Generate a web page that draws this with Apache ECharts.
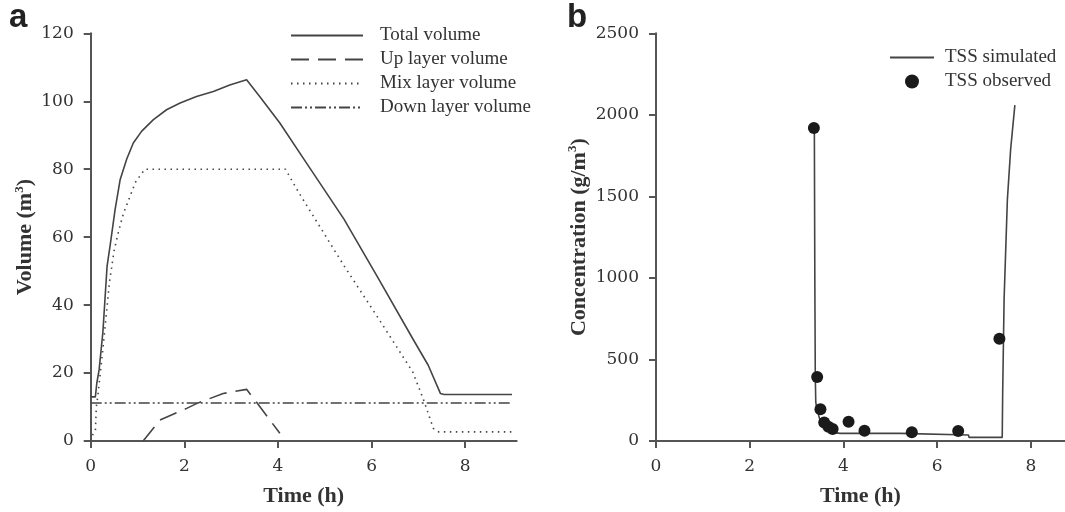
<!DOCTYPE html>
<html>
<head>
<meta charset="utf-8">
<script src="https://cdn.jsdelivr.net/npm/echarts@6/dist/echarts.min.js"></script>
<style>
html,body{margin:0;padding:0;background:#fff;}
#c{width:1065px;height:512px;}
</style>
</head>
<body>
<div id="c"></div>
<script>
// ---- Panel a: volumes (m3) vs time (h) ----
const totalVolume = [[0,13],[0.1,13],[0.13,17],[0.18,21],[0.26,32],[0.35,51.5],[0.42,58],[0.52,68],[0.63,77],[0.77,83],[0.91,87.7],[1.09,91.2],[1.34,94.6],[1.62,97.5],[1.91,99.5],[2.26,101.4],[2.62,102.9],[2.97,104.8],[3.33,106.3],[3.61,101.4],[4.04,93.6],[4.6,82],[5.41,65.3],[6.15,47.7],[6.88,30.1],[7.21,22.3],[7.47,14],[7.55,13.7],[9,13.7]];
const upVolume = [[1.12,0],[1.48,6.2],[2.05,9.6],[2.26,11],[2.83,14],[3.33,15.2],[3.51,12],[4.04,2.3]];
const mixVolume = [[0,0],[0.05,2],[0.1,3],[0.12,10],[0.15,13],[0.26,27],[0.40,46.7],[0.50,56],[0.59,61.4],[0.70,67],[0.84,72],[0.95,76],[1.05,78],[1.16,80],[4.16,80],[4.45,73],[5.41,51.6],[6.15,36],[6.88,20.3],[7.10,12.5],[7.32,3.7],[7.43,2.7],[9,2.7]];
const downVolume = [[0,11.2],[9,11.2]];
// ---- Panel b: TSS concentration (g/m3) vs time (h) ----
const tssSimulated = [[3.38,1920],[3.39,1000],[3.40,400],[3.41,240],[3.43,200],[3.50,128],[3.62,78],[3.79,53],[3.93,47],[5.21,47],[5.22,37],[6.67,37],[6.68,22],[7.39,22],[7.40,300],[7.43,870],[7.50,1480],[7.57,1790],[7.66,2060]];
const tssObserved = [[3.37,1920],[3.44,393],[3.51,194],[3.59,114],[3.68,88],[3.77,73],[4.11,118],[4.45,63],[5.46,53],[6.45,61],[7.33,627]];
// ---- Tick values ----
const xTicks = [0,2,4,6,8];

const serif = '"Liberation Serif", "Times New Roman", serif';
const tickFont = '"DejaVu Serif", serif';
const axisColor = '#555';
const lineColor = '#444';

function xAxisCfg(gridIndex, max){
  return {
    type:'value', gridIndex, min:0, max,
    name:'Time (h)', nameLocation:'middle', nameGap:44, nameMoveOverlap:false,
    nameTextStyle:{fontFamily:serif, fontSize:22, fontWeight:'bold', color:'#333'},
    axisLine:{show:true, onZero:false, lineStyle:{color:axisColor, width:2}},
    axisTick:{show:true, inside:false, length:7, customValues:xTicks, lineStyle:{color:axisColor, width:2}},
    axisLabel:{customValues:xTicks, margin:17, fontFamily:tickFont, fontSize:17, color:'#333', formatter:v=>String(v)},
    splitLine:{show:false}
  };
}
function yAxisCfg(gridIndex, max, interval, name, gap){
  return {
    type:'value', gridIndex, min:0, max, interval,
    name, nameLocation:'middle', nameGap:gap, nameMoveOverlap:false,
    nameTextStyle:{fontFamily:serif, fontSize:22, fontWeight:'bold', color:'#333', lineHeight:26,
      rich:{sup:{fontFamily:serif, fontSize:13, fontWeight:'bold', color:'#333', lineHeight:12, verticalAlign:'top'}}},
    axisLine:{show:true, onZero:false, lineStyle:{color:axisColor, width:2}},
    axisTick:{show:true, inside:false, length:7, lineStyle:{color:axisColor, width:2}},
    axisLabel:{margin:17, fontFamily:tickFont, fontSize:17, color:'#333', formatter:v=>String(v)},
    splitLine:{show:false}
  };
}
const noSymbol = {color:'rgba(0,0,0,0)', borderWidth:0, opacity:0};

const chart = echarts.init(document.getElementById('c'), null, {renderer:'canvas'});
chart.setOption({
  animation:false,
  backgroundColor:'#fff',
  grid:[
    {left:90.7, top:33.3, width:426, height:409.4},
    {left:656, top:33.3, width:409, height:409.4}
  ],
  xAxis:[xAxisCfg(0, 9.1), xAxisCfg(1, 8.73)],
  yAxis:[
    yAxisCfg(0, 120, 20, 'Volume (m{sup|3})', 52),
    yAxisCfg(1, 2500, 500, 'Concentration (g/m{sup|3})', 64)
  ],
  legend:[
    {
      left:285, top:21, orient:'vertical', itemWidth:72, itemHeight:14, itemGap:5,
      data:['Total volume','Up layer volume','Mix layer volume','Down layer volume'],
      itemStyle:noSymbol,
      textStyle:{fontFamily:serif, fontSize:19, color:'#333', padding:[0,0,0,12]},
      selectedMode:false
    },
    {
      left:884, top:43, orient:'vertical', itemWidth:44, itemHeight:14, itemGap:5,
      data:[{name:'TSS simulated', itemStyle:noSymbol},'TSS observed'],
      textStyle:{fontFamily:serif, fontSize:19, color:'#333', padding:[0,0,0,6]},
      selectedMode:false
    }
  ],
  graphic:[
    {type:'text', left:9, top:1, style:{text:'a', font:'bold 33px "Liberation Sans", Arial, sans-serif', fill:'#222'}},
    {type:'text', left:567, top:1, style:{text:'b', font:'bold 33px "Liberation Sans", Arial, sans-serif', fill:'#222'}}
  ],
  series:[
    {name:'Total volume', type:'line', xAxisIndex:0, yAxisIndex:0, data:totalVolume, symbol:'none',
      lineStyle:{color:lineColor, width:1.6, type:'solid'}, itemStyle:{color:lineColor}},
    {name:'Up layer volume', type:'line', xAxisIndex:0, yAxisIndex:0, data:upVolume, symbol:'none',
      lineStyle:{color:lineColor, width:1.6, type:[18,9]}, itemStyle:{color:lineColor}},
    {name:'Mix layer volume', type:'line', xAxisIndex:0, yAxisIndex:0, data:mixVolume, symbol:'none',
      lineStyle:{color:lineColor, width:1.6, type:[1.5,4.5]}, itemStyle:{color:lineColor}},
    {name:'Down layer volume', type:'line', xAxisIndex:0, yAxisIndex:0, data:downVolume, symbol:'none',
      lineStyle:{color:lineColor, width:1.6, type:[11,3,2,3,2,3]}, itemStyle:{color:lineColor}},
    {name:'TSS simulated', type:'line', xAxisIndex:1, yAxisIndex:1, data:tssSimulated, symbol:'none',
      lineStyle:{color:lineColor, width:1.6}, itemStyle:{color:lineColor}, z:2},
    {name:'TSS observed', type:'scatter', xAxisIndex:1, yAxisIndex:1, data:tssObserved, symbol:'circle', symbolSize:12,
      itemStyle:{color:'#1a1a1a', opacity:1}, z:3}
  ]
});
</script>
</body>
</html>
